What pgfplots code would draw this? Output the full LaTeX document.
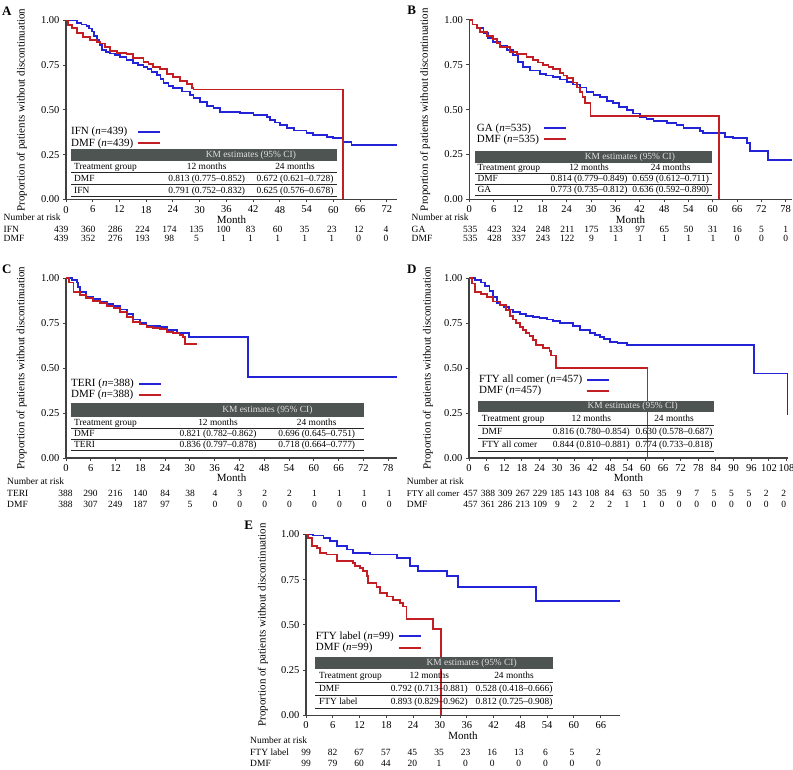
\documentclass[border=0pt]{standalone}
\usepackage{pgfplots}
\pgfplotsset{compat=1.18}
\usepackage{fontspec}
\setmainfont{Liberation Serif}
\definecolor{kmblue}{RGB}{35,35,215}
\definecolor{kmred}{RGB}{195,30,35}
\definecolor{axisgray}{RGB}{65,65,65}
\definecolor{hdrgray}{RGB}{77,84,82}
\definecolor{hdrtext}{RGB}{225,225,225}
\newcommand\riskfont{\fontsize{9.5}{11}\selectfont}
\newcommand\tabfont{\fontsize{9.4}{11}\selectfont}
\pgfplotsset{
 km/.style={
  axis x line=bottom, axis y line=left,
  axis line style={-, draw=axisgray, line width=1.3pt},
  tick align=outside, major tick length=3pt,
  tick style={draw=axisgray, line width=1pt},
  xmin=0, ymin=0, ymax=1, enlargelimits=false, scale only axis, anchor=south west,
  ytick={0,0.25,0.5,0.75,1},
  yticklabel style={/pgf/number format/fixed, /pgf/number format/fixed zerofill, /pgf/number format/precision=2},
  /pgf/number format/assume math mode=true,
  tick label style={font=\fontsize{10.5}{12}\selectfont, text=black},
  xlabel=Month, ylabel={Proportion of patients without discontinuation},
  every axis x label/.style={at={(axis description cs:0.5,0)}, anchor=mid, yshift=-21.5pt, font=\fontsize{11}{13}\selectfont},
  every axis y label/.style={rotate=90, anchor=center, font=\fontsize{11}{13}\selectfont},
  clip=false,
  legend cell align=left, legend plot pos=right,
  legend style={draw=none, fill=none, font=\fontsize{11}{13}\selectfont, anchor=north west, row sep=0pt, column sep=3pt, inner sep=0pt, nodes={inner sep=1pt}},
  legend image code/.code={\draw[##1, line width=2pt] (0pt,0pt) -- (22pt,0pt);},
 },
 bl/.style={const plot, color=kmblue, draw=kmblue, line width=1.8pt, no markers},
 rd/.style={const plot, color=kmred, draw=kmred, line width=1.8pt, no markers},
}
% KM table: #1 xl, #2 xr, #3 ytop, #4 ybot, #5 pitch, #6 c1x, #7 c2x, #8 c3x
\newcommand{\kmbox}[8]{%
 \def\kmcA{#6}\def\kmcB{#7}\def\kmcC{#8}\def\kmyb{#4}\def\kmp{#5}%
 \fill[hdrgray] (#1,#3) rectangle (#2,#4);
 \node[text=hdrtext, font=\tabfont, anchor=mid, inner sep=0pt] at ({(#7+#8)/2},{(#3+#4)/2}) {KM estimates (95\% CI)};
 \node[font=\tabfont, anchor=mid west, inner sep=0pt] at (#6,{#4+0.55*#5}) {Treatment group};
 \node[font=\tabfont, anchor=mid, inner sep=0pt] at (#7,{#4+0.55*#5}) {12 months};
 \node[font=\tabfont, anchor=mid, inner sep=0pt] at (#8,{#4+0.55*#5}) {24 months};
 \draw[black!85, line width=0.7pt] (#1,{#4+#5}) -- (#2,{#4+#5});
 \draw[black!85, line width=0.7pt] (#1,{#4+2*#5}) -- (#2,{#4+2*#5});
 \draw[black!85, line width=0.7pt] (#1,{#4+3*#5}) -- (#2,{#4+3*#5});
}
\newcommand{\kmrow}[4]{%
 \node[font=\tabfont, anchor=mid west, inner sep=0pt] at (\kmcA,{\kmyb+(#1+0.55)*\kmp}) {#2};
 \node[font=\tabfont, anchor=mid, inner sep=0pt] at (\kmcB,{\kmyb+(#1+0.55)*\kmp}) {#3};
 \node[font=\tabfont, anchor=mid, inner sep=0pt] at (\kmcC,{\kmyb+(#1+0.55)*\kmp}) {#4};
}
% risk row: #1 x0, #2 dx, #3 y, #4 list
\newcommand{\riskrow}[4]{\foreach \v [count=\i from 0] in {#4} {\node[font=\riskfont, anchor=mid, inner sep=0pt] at ({#1+\i*#2},#3) {\v};}}
\newcommand{\risklab}[3]{\node[font=\riskfont, anchor=mid west, inner sep=0pt] at (#1,#2) {#3};}
\begin{document}
\begin{tikzpicture}
\path[use as bounding box] (0pt,0pt) rectangle (793pt,-770pt);
% ---------------- Panel A
\begin{axis}[km, at={(66pt,-199.5pt)}, width=331pt, height=179pt, xmax=74.3, xtick={0,6,...,72},
 ylabel style={at={(axis description cs:-0.133,0.5)}},
 legend style={at={(axis description cs:0.012,0.41)}}]
\addplot[bl] coordinates {(0,1) (1.3,1) (2.4,0.988) (3.5,0.978) (4.6,0.969) (5.2,0.955) (5.8,0.938) (6.3,0.915) (6.9,0.891) (7.5,0.862) (8.0,0.835) (9.0,0.825) (9.9,0.816) (11,0.807) (12.1,0.798) (13.6,0.78) (15.1,0.761) (16.2,0.75) (17.4,0.742) (18.3,0.728) (19.2,0.714) (20.4,0.696) (21.2,0.672) (21.9,0.649) (23.0,0.634) (24.1,0.621) (26.0,0.603) (27.8,0.584) (28.6,0.565) (30.1,0.546) (31.6,0.522) (33.1,0.509) (34.6,0.49) (39.1,0.485) (42.1,0.472) (45.1,0.459) (45.8,0.444) (47,0.43) (48.0,0.416) (49.6,0.398) (51.1,0.385) (54.0,0.37) (55.5,0.36) (58.5,0.351) (60.0,0.342) (62.1,0.323) (64.1,0.303) (74.3,0.303)};
\addlegendentry{IFN (\textit{n}=439)}
\addplot[rd] coordinates {(0,1) (0.5,0.975) (1.3,0.956) (2.4,0.928) (3.9,0.906) (5.4,0.891) (6.9,0.882) (7.6,0.872) (8.8,0.85) (9.9,0.831) (11.4,0.82) (13.6,0.811) (15.1,0.789) (17.4,0.77) (18.5,0.756) (19.6,0.742) (21.1,0.727) (22.6,0.701) (24.1,0.683) (25.6,0.664) (27.1,0.645) (28.2,0.621) (28.6,0.615) (62.1,0)};
\addlegendentry{DMF (\textit{n}=439)}
\end{axis}
% ---------------- Panel B
\begin{axis}[km, at={(469.3pt,-199.3pt)}, width=322.5pt, height=179.3pt, xmax=79.5, xtick={0,6,...,78},
 ylabel style={at={(axis description cs:-0.137,0.5)}},
 legend style={at={(axis description cs:0.02,0.43)}}]
\addplot[bl] coordinates {(0,1) (0.8,0.975) (1.8,0.954) (3.5,0.926) (4.7,0.9) (5.9,0.879) (7.6,0.855) (9.2,0.832) (10.8,0.805) (12.1,0.767) (13.3,0.74) (15.0,0.718) (17.4,0.699) (19,0.69) (20.7,0.68) (22.4,0.668) (24.0,0.656) (25.6,0.64) (27.3,0.624) (28.9,0.6) (30.6,0.582) (32.2,0.569) (34,0.55) (35.5,0.535) (37,0.515) (38.8,0.498) (40.4,0.479) (42.1,0.461) (43.7,0.446) (45.4,0.438) (48.7,0.424) (51.1,0.414) (52.8,0.396) (56.9,0.383) (57.7,0.368) (63.0,0.349) (65.1,0.34) (68.4,0.312) (69.2,0.271) (73.7,0.219) (79.5,0.219)};
\addlegendentry{GA (\textit{n}=535)}
\addplot[rd] coordinates {(0,1) (0.8,0.975) (1.8,0.954) (2.6,0.931) (4.3,0.911) (5.9,0.892) (6.8,0.87) (7.6,0.851) (10.0,0.823) (11.7,0.81) (14.1,0.795) (15.8,0.777) (17,0.763) (18.2,0.749) (19.5,0.737) (20.7,0.725) (22.4,0.703) (23.2,0.69) (24.0,0.675) (25.6,0.651) (26.5,0.624) (27.3,0.6) (27.9,0.572) (28.5,0.539) (29.9,0.465) (61.6,0)};
\addlegendentry{DMF (\textit{n}=535)}
\end{axis}
% ---------------- Panel C
\begin{axis}[km, at={(66pt,-458pt)}, width=331.2pt, height=180pt, xmax=80.2, xtick={0,6,...,78},
 ylabel style={at={(axis description cs:-0.134,0.5)}},
 legend style={at={(axis description cs:0.012,0.445)}}]
\addplot[bl] coordinates {(0,1) (1.5,0.99) (2.6,0.975) (3,0.95) (3.4,0.924) (4.9,0.896) (6.5,0.885) (8.2,0.87) (10,0.857) (11.5,0.844) (13,0.825) (14.7,0.8) (16.3,0.77) (18,0.75) (19.5,0.733) (22.8,0.726) (24.4,0.711) (26.8,0.696) (29.8,0.674) (44.1,0.448) (80.2,0.448)};
\addlegendentry{TERI (\textit{n}=388)}
\addplot[rd] coordinates {(0,1) (0.8,0.975) (1.8,0.924) (3.3,0.905) (4.9,0.887) (6.5,0.872) (8.2,0.859) (10,0.845) (11.5,0.832) (13,0.81) (14.7,0.785) (16.3,0.757) (18,0.742) (19.5,0.73) (21,0.722) (22.8,0.715) (24.4,0.70) (26,0.693) (27.5,0.684) (28.4,0.674) (28.8,0.632) (31.8,0.632)};
\addlegendentry{DMF (\textit{n}=388)}
\end{axis}
% ---------------- Panel D
\begin{axis}[km, at={(469pt,-458pt)}, width=319pt, height=180pt, xmax=108.5, xtick={0,6,...,108},
 ylabel style={at={(axis description cs:-0.129,0.5)}},
 legend style={at={(axis description cs:0.028,0.467)}}]
\addplot[bl] coordinates {(0,1) (2,0.99) (4,0.975) (5.5,0.955) (7,0.93) (8.2,0.895) (9.4,0.86) (10.5,0.85) (12,0.84) (13.5,0.825) (15,0.813) (17.3,0.798) (19.5,0.79) (21.8,0.785) (24,0.777) (26.4,0.77) (28.6,0.76) (30.9,0.752) (35.4,0.733) (37.7,0.711) (41.1,0.696) (42.8,0.685) (44.5,0.674) (46,0.66) (47.9,0.646) (50.5,0.64) (53.8,0.628) (96.9,0.47) (108.3,0.24)};
\addlegendentry{FTY all comer (\textit{n}=457)}
\addplot[rd] coordinates {(0,1) (1,0.97) (2,0.924) (4,0.91) (6,0.896) (8.2,0.869) (10.5,0.85) (12.7,0.824) (13.9,0.787) (15,0.77) (16.1,0.75) (17.3,0.73) (18.4,0.713) (19.5,0.695) (20.6,0.676) (21.7,0.655) (22.9,0.63) (25.2,0.611) (27.4,0.593) (28,0.569) (29.5,0.498) (60.7,0)};
\addlegendentry{DMF (\textit{n}=457)}
\end{axis}
% ---------------- Panel E
\begin{axis}[km, at={(306pt,-715.3pt)}, width=314pt, height=180.8pt, xmax=70.3, xtick={0,6,...,66},
 ylabel style={at={(axis description cs:-0.137,0.5)}},
 legend style={at={(axis description cs:0.028,0.468)}}]
\addplot[bl] coordinates {(0,1) (1.6,0.994) (3.9,0.981) (5.4,0.963) (6.9,0.935) (9.1,0.917) (10.6,0.898) (14.3,0.889) (20.3,0.87) (23.3,0.824) (25.1,0.796) (31.5,0.772) (34.1,0.709) (51.5,0.633) (70.3,0.633)};
\addlegendentry{FTY label (\textit{n}=99)}
\addplot[rd] coordinates {(0,1) (0.5,0.98) (1.3,0.935) (2.4,0.926) (3.1,0.898) (4.6,0.889) (6.9,0.852) (10.6,0.843) (11,0.824) (12.1,0.815) (12.8,0.80) (13.6,0.769) (13.9,0.731) (15.8,0.709) (16.6,0.676) (18.1,0.657) (19.5,0.639) (21.0,0.620) (21.8,0.602) (22.5,0.533) (28.5,0.476) (30.2,0)};
\addlegendentry{DMF (\textit{n}=99)}
\end{axis}
% ---------------- annotations in pixel coordinates
\begin{scope}[x=1pt,y=-1pt]
\foreach \l/\x/\y in {A/6.7/10.8, B/411.7/10.5, C/6.7/269, D/411.7/269.5, E/248.7/525}
  \node[font=\bfseries\fontsize{13}{15}\selectfont, anchor=center, inner sep=0pt] at (\x,\y) {\l};
% tables
\kmbox{71}{337.3}{149.3}{161}{11.8}{74}{206.7}{295}
\kmrow{1}{DMF}{0.813 (0.775–0.852)}{0.672 (0.621–0.728)}
\kmrow{2}{IFN}{0.791 (0.752–0.832)}{0.625 (0.576–0.678)}
\kmbox{475}{712.3}{151}{162.7}{10.8}{477.3}{589}{670.7}
\kmrow{1}{DMF}{0.814 (0.779–0.849)}{0.659 (0.612–0.711)}
\kmrow{2}{GA}{0.773 (0.735–0.812)}{0.636 (0.592–0.890)}
\kmbox{71}{364.3}{403.3}{417.3}{11}{74}{218}{316.7}
\kmrow{1}{DMF}{0.821 (0.782–0.862)}{0.696 (0.645–0.751)}
\kmrow{2}{TERI}{0.836 (0.797–0.878)}{0.718 (0.664–0.777)}
\kmbox{477.7}{714}{400.7}{412.3}{13}{481.7}{591.3}{674}
\kmrow{1}{DMF}{0.816 (0.780–0.854)}{0.630 (0.578–0.687)}
\kmrow{2}{FTY all comer}{0.844 (0.810–0.881)}{0.774 (0.733–0.818)}
\kmbox{315}{553.3}{656.7}{669}{13}{319}{429.3}{514}
\kmrow{1}{DMF}{0.792 (0.713–0.881)}{0.528 (0.418–0.666)}
\kmrow{2}{FTY label}{0.893 (0.829–0.962)}{0.812 (0.725–0.908)}
% number at risk A
\risklab{3.5}{218.3}{Number at risk}
\risklab{3.5}{229.8}{IFN}
\risklab{3.5}{239}{DMF}
\riskrow{61.2}{27.06}{229.8}{439,360,286,224,174,135,100,83,60,35,23,12,4}
\riskrow{61.2}{27.06}{239}{439,352,276,193,98,5,1,1,1,1,1,0,0}
% B
\risklab{411.5}{218.3}{Number at risk}
\risklab{411.5}{229.8}{GA}
\risklab{411.5}{239}{DMF}
\riskrow{470.3}{24.26}{229.8}{535,423,324,248,211,175,133,97,65,50,31,16,5,1}
\riskrow{470.3}{24.26}{239}{535,428,337,243,122,9,1,1,1,1,1,0,0,0}
% C
\risklab{7}{482.7}{Number at risk}
\risklab{7}{494}{TERI}
\risklab{7}{505}{DMF}
\riskrow{65.5}{24.9}{494}{388,290,216,140,84,38,4,3,2,2,1,1,1,1}
\riskrow{65.5}{24.9}{505}{388,307,249,187,97,5,0,0,0,0,0,0,0,0}
% D
\risklab{406.7}{482.7}{Number at risk}
\node[font=\fontsize{8.9}{10}\selectfont, anchor=mid west, inner sep=0pt] at (406.7,494) {FTY all comer};
\risklab{406.7}{505}{DMF}
\riskrow{470.5}{17.4}{494}{457,388,309,267,229,185,143,108,84,63,50,35,9,7,5,5,5,2,2}
\riskrow{470.5}{17.4}{505}{457,361,286,213,109,9,2,2,2,1,1,0,0,0,0,0,0,0,0}
% E
\risklab{250}{741.7}{Number at risk}
\risklab{250}{753.3}{FTY label}
\risklab{250}{764}{DMF}
\riskrow{306}{26.6}{753.3}{99,82,67,57,45,35,23,16,13,6,5,2}
\riskrow{306}{26.6}{764}{99,79,60,44,20,1,0,0,0,0,0,0}
\end{scope}
\end{tikzpicture}
\end{document}
